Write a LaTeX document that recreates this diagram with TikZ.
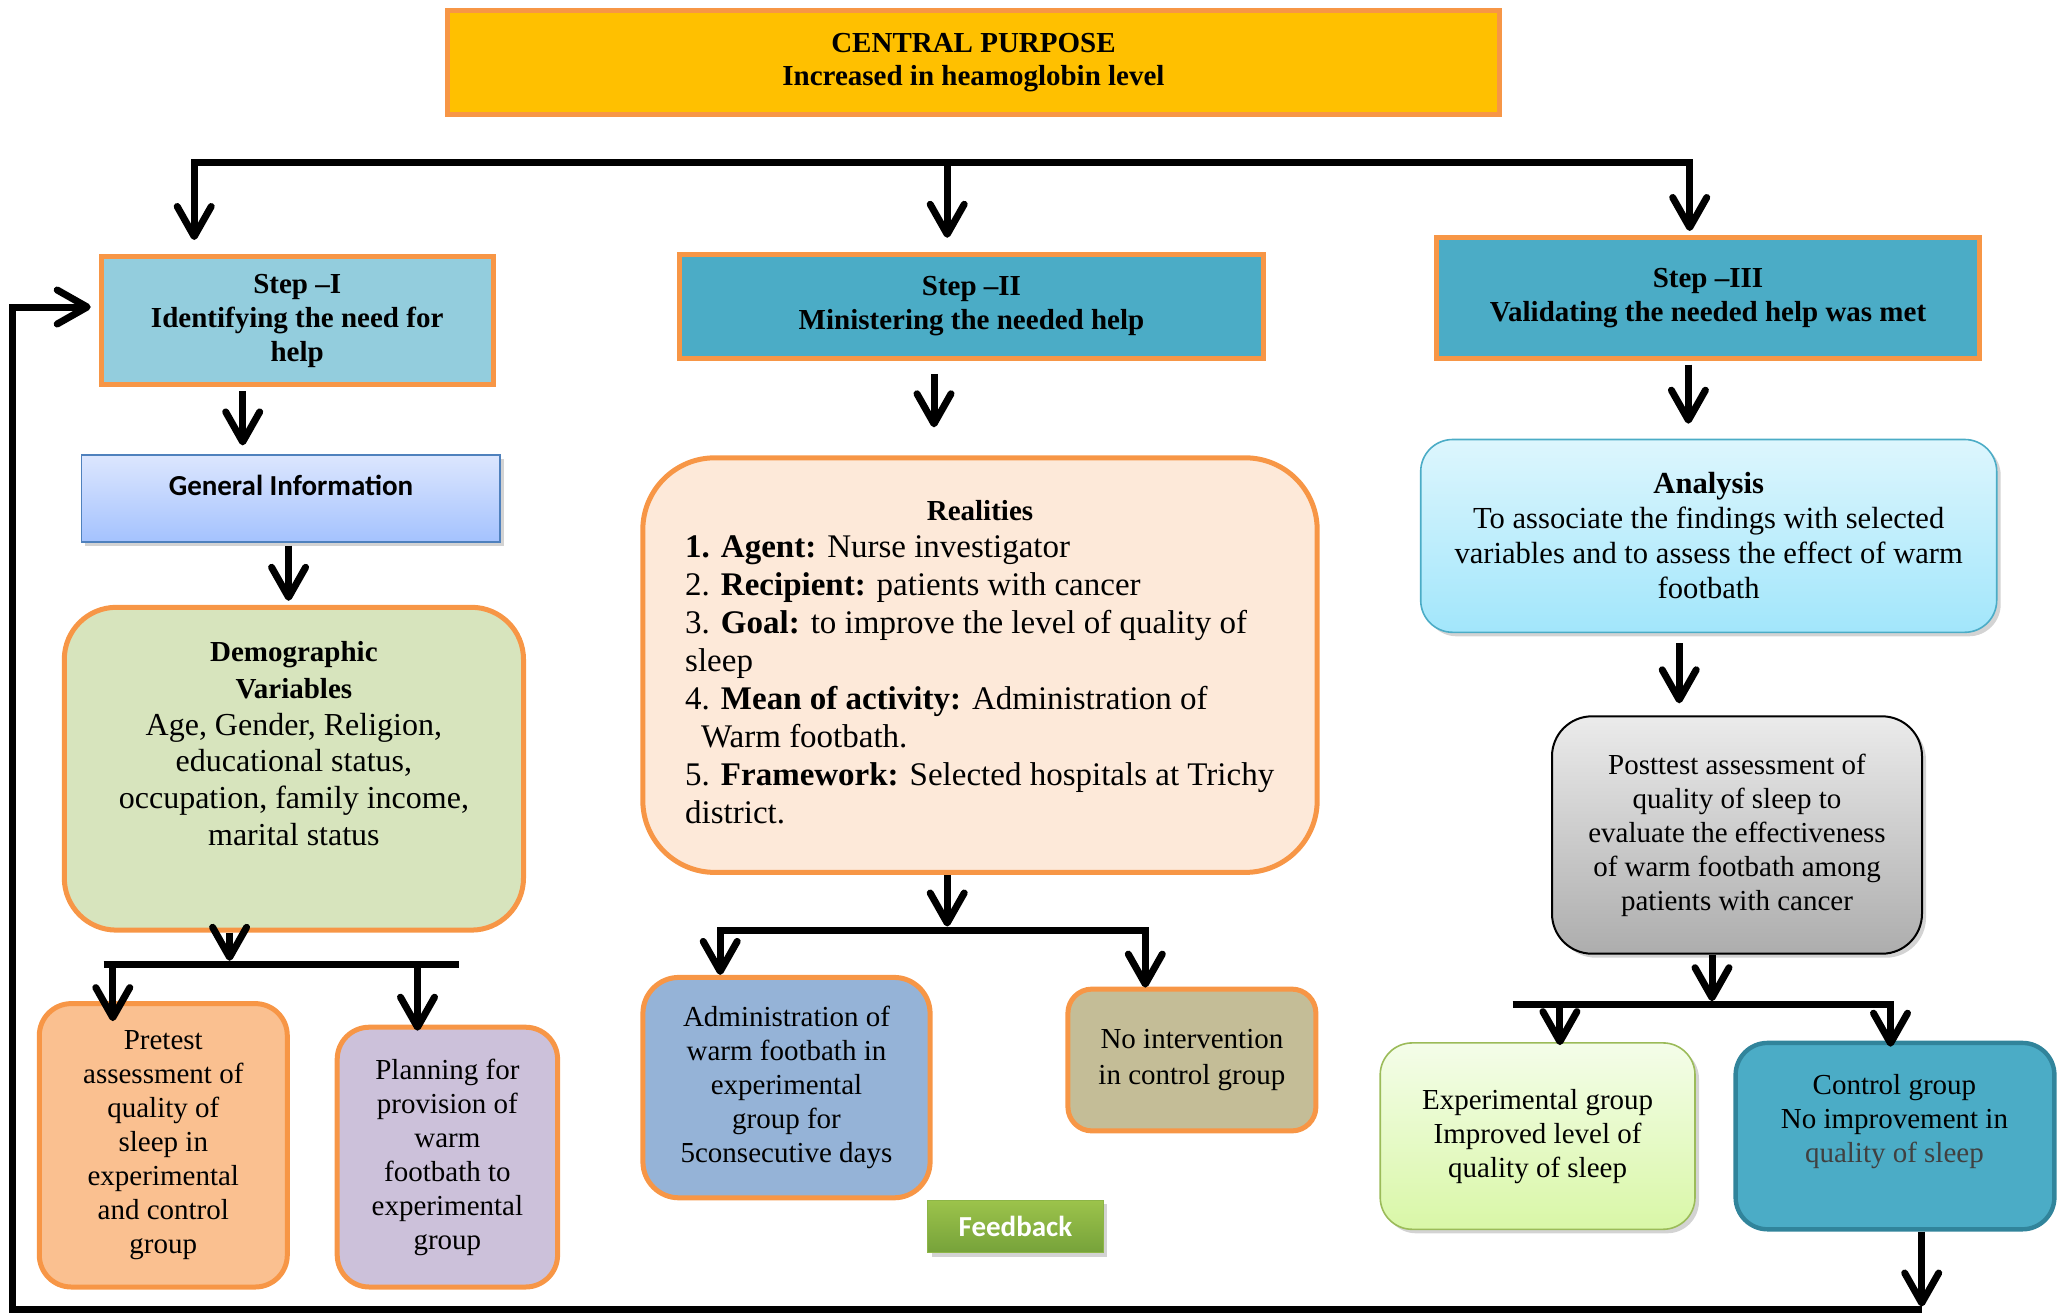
\documentclass[tikz,border=0pt]{standalone}
\usepackage{fontspec}
\setmainfont{Liberation Serif}
\newfontfamily\calfont{Carlito}
\usetikzlibrary{arrows.meta,calc,shadows}
\definecolor{orng}{HTML}{F79646}
\definecolor{cgold}{HTML}{FFC000}
\definecolor{tealL}{HTML}{93CDDD}
\definecolor{tealD}{HTML}{4BACC6}
\definecolor{giB}{HTML}{4F81BD}
\definecolor{giT}{HTML}{DCE6FE}
\definecolor{giBot}{HTML}{A4C2FE}
\definecolor{demoC}{HTML}{D7E4BD}
\definecolor{realC}{HTML}{FDE9D9}
\definecolor{preC}{HTML}{FAC090}
\definecolor{planC}{HTML}{CCC1DA}
\definecolor{admC}{HTML}{95B3D7}
\definecolor{noiC}{HTML}{C4BD97}
\definecolor{anT}{HTML}{DDF6FD}
\definecolor{anB}{HTML}{A2E6FB}
\definecolor{ptT}{HTML}{EBEBEB}
\definecolor{ptB}{HTML}{ADADAD}
\definecolor{expT}{HTML}{F4FDE9}
\definecolor{expBot}{HTML}{D9F7A7}
\definecolor{expB}{HTML}{9BBB59}
\definecolor{ctlB}{HTML}{31849B}
\definecolor{ctlG}{HTML}{404040}
\definecolor{fbT}{HTML}{9CC34B}
\definecolor{fbBot}{HTML}{76A23A}
\definecolor{fbB}{HTML}{8DB547}
\begin{document}
\begin{tikzpicture}[x=0.5pt,y=-0.5pt,
  obox/.style={draw=orng, line width=2.5pt, align=center, inner sep=2pt},
  hd/.style={font=\bfseries\fontsize{14.5}{17}\selectfont},
  bd/.style={align=center, font=\fontsize{14.5}{17}\selectfont},
  shd/.style={drop shadow={shadow xshift=2pt, shadow yshift=-2pt, opacity=0.35}},
  ln/.style={line width=3.5pt},
  arr/.style={line width=3.5pt, -{Straight Barb[length=15pt,width=17pt,round]}}]
\useasboundingbox (0,0) rectangle (2057,1313);

% ---------- nodes ----------
\node[obox, fill=cgold, minimum width=526pt, minimum height=51.8pt,
      font=\bfseries\fontsize{14.5}{16.5}\selectfont] (cp) at (973.5,62.3)
      {CENTRAL PURPOSE\\Increased in heamoglobin level};

\node[obox, fill=tealL, minimum width=196pt, minimum height=64pt, hd] (s1) at (297.2,320.5)
      {Step –I\\Identifying the need for\\help};
\node[obox, fill=tealD, minimum width=292pt, minimum height=52pt, hd] (s2) at (971.5,306.3)
      {Step –II\\Ministering the needed help};
\node[obox, fill=tealD, minimum width=271.6pt, minimum height=60.3pt, hd] (s3) at (1708,297.8)
      {Step –III\\Validating the needed help was met};

\node[draw=giB, line width=0.8pt, top color=giT, bottom color=giBot, minimum width=209.3pt,
      minimum height=43.3pt, shd] (gi) at (290.6,498.5) {};
\node[font=\calfont\bfseries\fontsize{14.5}{16}\selectfont] (gitext) at (291,485) {General Information};

\node[obox, rounded corners=26pt, fill=demoC, minimum width=229.6pt, minimum height=161.4pt] (demo) at (293.9,768.7) {};
\node[align=center, font=\fontsize{16}{18.4}\selectfont] (demotext) at (293.9,743.5)
      {{\bfseries\fontsize{14.5}{17}\selectfont Demographic}\\{\bfseries\fontsize{14.5}{17}\selectfont Variables}\\Age, Gender, Religion,\\educational status,\\occupation, family income,\\marital status};

\node[obox, rounded corners=36pt, fill=realC, minimum width=337.2pt, minimum height=207.3pt] (real) at (980,665.1) {};
\node[font=\bfseries\fontsize{14.5}{17}\selectfont] (realh) at (980,510.3) {Realities};
\node[align=left, anchor=west, inner sep=0pt, font=\fontsize{16.5}{19}\selectfont] (realtext) at (684.8,680)
      {\textbf{1. Agent:} Nurse investigator\\
       2. \textbf{Recipient:} patients with cancer\\
       3. \textbf{Goal:} to improve the level of quality of\\
       sleep\\
       4. \textbf{Mean of activity:} Administration of\\
       \hspace*{8pt}Warm footbath.\\
       5. \textbf{Framework:} Selected hospitals at Trichy\\
       district.};

\node[draw=tealD, line width=0.8pt, rounded corners=16pt, top color=anT, bottom color=anB,
      minimum width=288pt, minimum height=96.4pt, shd, align=center,
      font=\fontsize{15.3}{17.5}\selectfont] (ana) at (1708.7,535.9)
      {\textbf{Analysis}\\To associate the findings with selected\\variables and to assess the effect of warm\\footbath};

\node[draw=black, line width=1pt, rounded corners=20pt, top color=ptT, bottom color=ptB,
      minimum width=185pt, minimum height=118.7pt, shd, bd] (post) at (1737,835)
      {Posttest assessment of\\quality of sleep to\\evaluate the effectiveness\\of warm footbath among\\patients with cancer};

\node[obox, rounded corners=16pt, fill=preC, minimum width=124pt, minimum height=141.7pt, bd] (pre) at (163.3,1145.3)
      {Pretest\\assessment of\\quality of\\sleep in\\experimental\\and control\\group};
\node[obox, rounded corners=16pt, fill=planC, minimum width=110.2pt, minimum height=129.9pt, bd] (plan) at (447.4,1157.1)
      {Planning for\\provision of\\warm\\footbath to\\experimental\\group};
\node[obox, rounded corners=18pt, fill=admC, minimum width=143.6pt, minimum height=110.2pt, bd] (adm) at (786.5,1087.6)
      {Administration of\\warm footbath in\\experimental\\group for\\5consecutive days};
\node[obox, rounded corners=12pt, fill=noiC, minimum width=124pt, minimum height=70.9pt,
      align=center, font=\fontsize{14.5}{17.7}\selectfont] (noi) at (1191.9,1060)
      {No intervention\\in control group};

\node[draw=expB, line width=0.8pt, rounded corners=16pt, top color=expT, bottom color=expBot,
      minimum width=157.4pt, minimum height=93.2pt, shd, bd] (exp) at (1537.6,1136.1)
      {Experimental group\\Improved level of\\quality of sleep};
\node[draw=ctlB, line width=2.2pt, rounded corners=16pt, fill=tealD, minimum width=159.4pt,
      minimum height=93.2pt] (ctl) at (1895,1136.1) {};
\node[bd] (ctltext) at (1894.4,1122)
      {Control group\\No improvement in\\\textcolor{ctlG}{quality of sleep}};

\node[draw=fbB, line width=0.6pt, top color=fbT, bottom color=fbBot, minimum width=87.9pt,
      minimum height=26.2pt, shd, text=white, font=\calfont\bfseries\fontsize{14.5}{16}\selectfont] (fb) at (1015.4,1226.6) {Feedback};

% ---------- coordinates ----------
\coordinate (tbL) at (194.2,162.7);
\coordinate (tbM) at (947.2,162.7);
\coordinate (tbR) at (1689.7,162.7);
\coordinate (c1) at (242.7,0);
\coordinate (c2) at (288.6,0);
\coordinate (c3) at (934,0);
\coordinate (c4) at (1688.4,0);
\coordinate (c5) at (1679.2,0);
\coordinate (dbM) at (229.6,964.3);
\coordinate (dbL) at (103.6,964.3);
\coordinate (dbR) at (459.2,964.3);
\coordinate (dbx1) at (112.8,964.3);
\coordinate (dbx2) at (417.5,964.3);
\coordinate (rbM) at (947.2,930);
\coordinate (rbL) at (720.2,930);
\coordinate (rbR) at (1145.3,930);
\coordinate (pbM) at (1712,1004.7);
\coordinate (pbE) at (1512.6,1004.7);
\coordinate (pbL) at (1559.9,1004.7);
\coordinate (pbR) at (1890.5,1004.7);
\coordinate (fbR) at (1921.7,1309.5);
\coordinate (fbL) at (12.5,1309.5);
\coordinate (fbTop) at (12.5,307);

% ---------- connectors ----------
\draw[arr] (tbM) -| ($(s1.north -| tbL)+(0,-14)$);
\draw[arr] (tbM) -| ($(s3.north -| tbR)+(0,-4)$);
\draw[arr] (tbM) -- ($(s2.north -| tbM)+(0,-14)$);

\draw[arr] ($(s1.south -| c1)+(0,4)$) -- ($(gi.north -| c1)+(0,-9)$);
\draw[arr] ($(gi.south -| c2)+(0,3)$) -- ($(demo.north -| c2)+(0,-4)$);
\draw[arr] (demo.south -| dbM) -- ($(dbM)+(0,-3.5)$);
\draw[ln] (dbL) -- (dbR);
\draw[arr] (dbx1) -- ($(pre.north -| dbx1)+(0,20)$);
\draw[arr] (dbx2) -- ($(plan.north -| dbx2)+(0,6)$);

\draw[arr] ($(s2.south -| c3)+(0,13)$) -- ($(real.north -| c3)+(0,-28)$);
\draw[arr] (real.south -| rbM) -- ($(rbM)+(0,-3.5)$);
\draw[arr] (rbM) -| (adm.north -| rbL);
\draw[arr] (rbM) -| ($(noi.north -| rbR)+(0,1)$);

\draw[arr] ($(s3.south -| c4)+(0,4)$) -- ($(ana.north -| c4)+(0,-15)$);
\draw[arr] ($(ana.south -| c5)+(0,10)$) -- ($(post.north -| c5)+(0,-12)$);
\draw[arr] (post.south -| pbM) -- ($(pbM)+(0,-3.5)$);
\draw[ln] (pbE) -- (pbM);
\draw[arr] (pbM) -| ($(exp.north -| pbL)+(0,3)$);
\draw[arr] (pbM) -| ($(ctl.north -| pbR)+(0,6)$);

\draw[arr] (ctl.south -| fbR) -- ($(fbR)+(0,-3)$);
\draw[arr] (fbR) -- (fbL) -- (fbTop) -- ($(s1.west |- fbTop)+(-8,0)$);
\end{tikzpicture}
\end{document}
